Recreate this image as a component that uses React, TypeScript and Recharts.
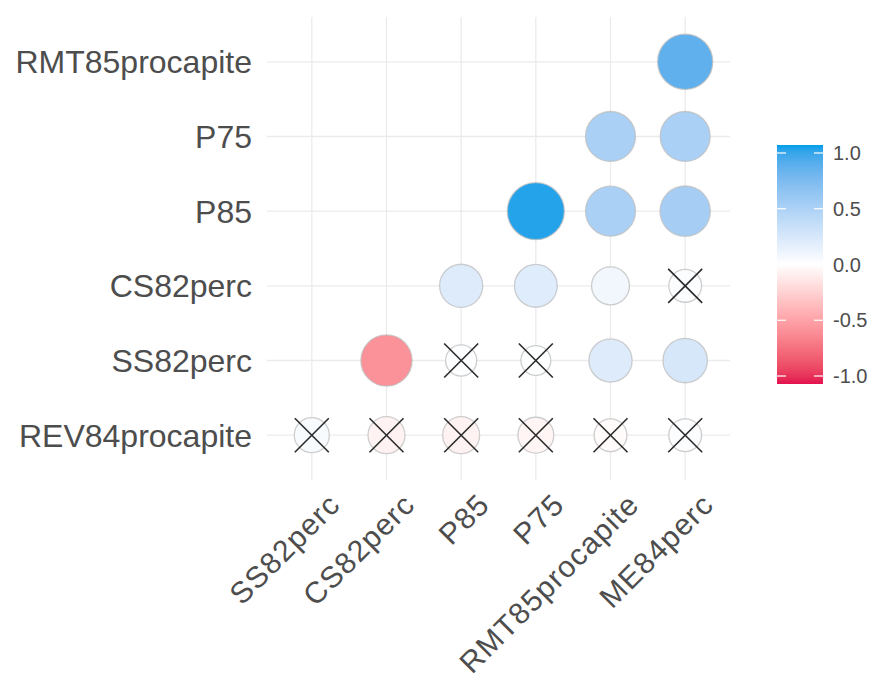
import { ScatterChart, Scatter, XAxis, YAxis, ZAxis, CartesianGrid, Legend } from "recharts";

// variables on each axis (y listed bottom to top)
const xVars = ["SS82perc", "CS82perc", "P85", "P75", "RMT85procapite", "ME84perc"];
const yVars = ["REV84procapite", "SS82perc", "CS82perc", "P85", "P75", "RMT85procapite"];

// correlation per row (one per y variable), null = empty cell
const rowREV84 = [0.04, -0.065, -0.065, -0.05, -0.02, 0.02];
const rowSS82 = [null, -0.55, 0.01, 0.005, 0.2, 0.24];
const rowCS82 = [null, null, 0.2, 0.19, 0.08, 0.02];
const rowP85 = [null, null, null, 0.97, 0.48, 0.5];
const rowP75 = [null, null, null, null, 0.48, 0.48];
const rowRMT85 = [null, null, null, null, null, 0.82];

// non-significant cells (drawn with a cross)
const insigREV84 = [true, true, true, true, true, true];
const insigSS82 = [false, false, true, true, false, false];
const insigCS82 = [false, false, false, false, false, true];
const insigP85 = [false, false, false, false, false, false];
const insigP75 = [false, false, false, false, false, false];
const insigRMT85 = [false, false, false, false, false, false];

const legendTicks = [1, 0.5, 0, -0.5, -1];

const LOW = "#E3104F";
const MID = "#FFFFFF";
const HIGH = "#00A0E9";

const rows = [rowREV84, rowSS82, rowCS82, rowP85, rowP75, rowRMT85];
const insig = [insigREV84, insigSS82, insigCS82, insigP85, insigP75, insigRMT85];

// --- Lab interpolation, like ggplot's gradient2 ---
const WX = 0.95047, WZ = 1.08883;
const lin = (c: number) => {
  c /= 255;
  return c <= 0.04045 ? c / 12.92 : Math.pow((c + 0.055) / 1.055, 2.4);
};
const unlin = (c: number) => {
  const v = c <= 0.0031308 ? 12.92 * c : 1.055 * Math.pow(c, 1 / 2.4) - 0.055;
  return Math.round(Math.min(1, Math.max(0, v)) * 255);
};
const fl = (t: number) => (t > 0.008856 ? Math.cbrt(t) : 7.787 * t + 16 / 116);
const finv = (t: number) => (t ** 3 > 0.008856 ? t ** 3 : (t - 16 / 116) / 7.787);

function toLab(hex: string) {
  const n = parseInt(hex.slice(1), 16);
  const r = lin((n >> 16) & 255), g = lin((n >> 8) & 255), b = lin(n & 255);
  const X = (0.4124 * r + 0.3576 * g + 0.1805 * b) / WX;
  const Y = 0.2126 * r + 0.7152 * g + 0.0722 * b;
  const Z = (0.0193 * r + 0.1192 * g + 0.9505 * b) / WZ;
  const fx = fl(X), fy = fl(Y), fz = fl(Z);
  return [116 * fy - 16, 500 * (fx - fy), 200 * (fy - fz)];
}

function fromLab([L, a, b]: number[]) {
  const fy = (L + 16) / 116, fx = fy + a / 500, fz = fy - b / 200;
  const X = finv(fx) * WX, Y = finv(fy), Z = finv(fz) * WZ;
  const r = 3.2406 * X - 1.5372 * Y - 0.4986 * Z;
  const g = -0.9689 * X + 1.8758 * Y + 0.0415 * Z;
  const bl = 0.0557 * X - 0.204 * Y + 1.057 * Z;
  return `rgb(${unlin(r)},${unlin(g)},${unlin(bl)})`;
}

const labLow = toLab(LOW), labMid = toLab(MID), labHigh = toLab(HIGH);

function colorFor(v: number) {
  const t = Math.min(1, Math.abs(v));
  const end = v < 0 ? labLow : labHigh;
  return fromLab(labMid.map((m, i) => m + (end[i] - m) * t));
}

const cells: { x: number; y: number; v: number; absv: number; fill: string }[] = [];
const crosses: { x: number; y: number }[] = [];
rows.forEach((row, yi) =>
  row.forEach((v, xi) => {
    if (v === null) return;
    cells.push({ x: xi, y: yi, v, absv: Math.abs(v), fill: colorFor(v) });
    if (insig[yi][xi]) crosses.push({ x: xi, y: yi });
  })
);

const idxTicks = xVars.map((_, i) => i);
const DOMAIN: [number, number] = [-0.6, 5.6];
const TEXT = "#4d4d4d";
const FONT = "'Liberation Sans', Arial, sans-serif";

// grid only at the category positions (no panel border)
const gridX = ({ offset }: any) =>
  idxTicks.map((t) => offset.left + ((t - DOMAIN[0]) / (DOMAIN[1] - DOMAIN[0])) * offset.width);
const gridY = ({ offset }: any) =>
  idxTicks.map((t) => offset.top + ((DOMAIN[1] - t) / (DOMAIN[1] - DOMAIN[0])) * offset.height);

const CircleShape = (props: any) => {
  const { cx, cy, payload } = props;
  const r = props.width ? props.width / 2 : Math.sqrt((props.size || 0) / Math.PI);
  return <circle cx={cx} cy={cy} r={r} fill={payload.fill} stroke="#bdbdbd" strokeOpacity={0.75} strokeWidth={1.3} />;
};

const CrossShape = (props: any) => {
  const { cx, cy } = props;
  const h = 17;
  return (
    <g stroke="#2a2a2a" strokeWidth={1.6}>
      <line x1={cx - h} y1={cy - h} x2={cx + h} y2={cy + h} />
      <line x1={cx - h} y1={cy + h} x2={cx + h} y2={cy - h} />
    </g>
  );
};

const YTick = ({ x, y, payload }: any) => (
  <text x={x - 15} y={y} dy="0.36em" textAnchor="end" fontSize={32} fill={TEXT} fontFamily={FONT}>
    {yVars[payload.value]}
  </text>
);

const XTick = ({ x, y, payload }: any) => {
  const ax = x + 15;
  const ay = y + 11;
  return (
    <text x={ax} y={ay} dy="0.72em" textAnchor="end" fontSize={30} letterSpacing={1.2} fill={TEXT} fontFamily={FONT}
      transform={`rotate(-45 ${ax} ${ay})`}>
      {xVars[payload.value]}
    </text>
  );
};

const ColorBar = () => {
  const top = 13, bottom = 236;
  const pos = (v: number) => top + ((1 - v) / 2) * (bottom - top);
  const stops = Array.from({ length: 41 }, (_, i) => 1 - i * 0.05);
  return (
    <svg width={107} height={250} style={{ display: "block" }}>
      <defs>
        <linearGradient id="cbar" x1="0" y1="0" x2="0" y2="1">
          {stops.map((s, i) => (
            <stop key={i} offset={`${(i / (stops.length - 1)) * 100}%`} stopColor={colorFor(s)} />
          ))}
        </linearGradient>
      </defs>
      <rect x={7} y={top - 8} width={46} height={bottom - top + 16} fill="url(#cbar)" />
      {legendTicks.map((t) => (
        <g key={t}>
          <line x1={7} x2={16} y1={pos(t)} y2={pos(t)} stroke="#fff" strokeWidth={1.2} />
          <line x1={44} x2={53} y1={pos(t)} y2={pos(t)} stroke="#fff" strokeWidth={1.2} />
          <text x={63} y={pos(t)} dy="0.36em" fontSize={20} fill={TEXT} fontFamily={FONT}>
            {t.toFixed(1)}
          </text>
        </g>
      ))}
    </svg>
  );
};

export default function App() {
  return (
    <div style={{ position: "absolute", left: 0, top: 0, background: "#fff" }}>
      <ScatterChart width={877} height={678} margin={{ top: 17, right: 147, bottom: 0, left: 0 }}>
        <CartesianGrid stroke="#ebebeb" strokeWidth={1.3}
          verticalCoordinatesGenerator={gridX} horizontalCoordinatesGenerator={gridY} />
        <XAxis type="number" dataKey="x" domain={DOMAIN} ticks={idxTicks} interval={0}
          axisLine={false} tickLine={false} tickSize={0} tickMargin={0} height={198} tick={<XTick />} />
        <YAxis type="number" dataKey="y" domain={DOMAIN} ticks={idxTicks} interval={0}
          axisLine={false} tickLine={false} tickSize={0} tickMargin={0} width={267} tick={<YTick />} />
        <ZAxis type="number" dataKey="absv" domain={[0, 1]} range={[558, 2582]} scale="sqrt" />
        <Legend layout="vertical" align="center" verticalAlign="middle"
          wrapperStyle={{ left: 770, top: 140, width: 107, height: 250 }} content={() => <ColorBar />} />
        <Scatter data={cells} shape={CircleShape} isAnimationActive={false} />
        <Scatter data={crosses} shape={CrossShape} isAnimationActive={false} />
      </ScatterChart>
    </div>
  );
}
